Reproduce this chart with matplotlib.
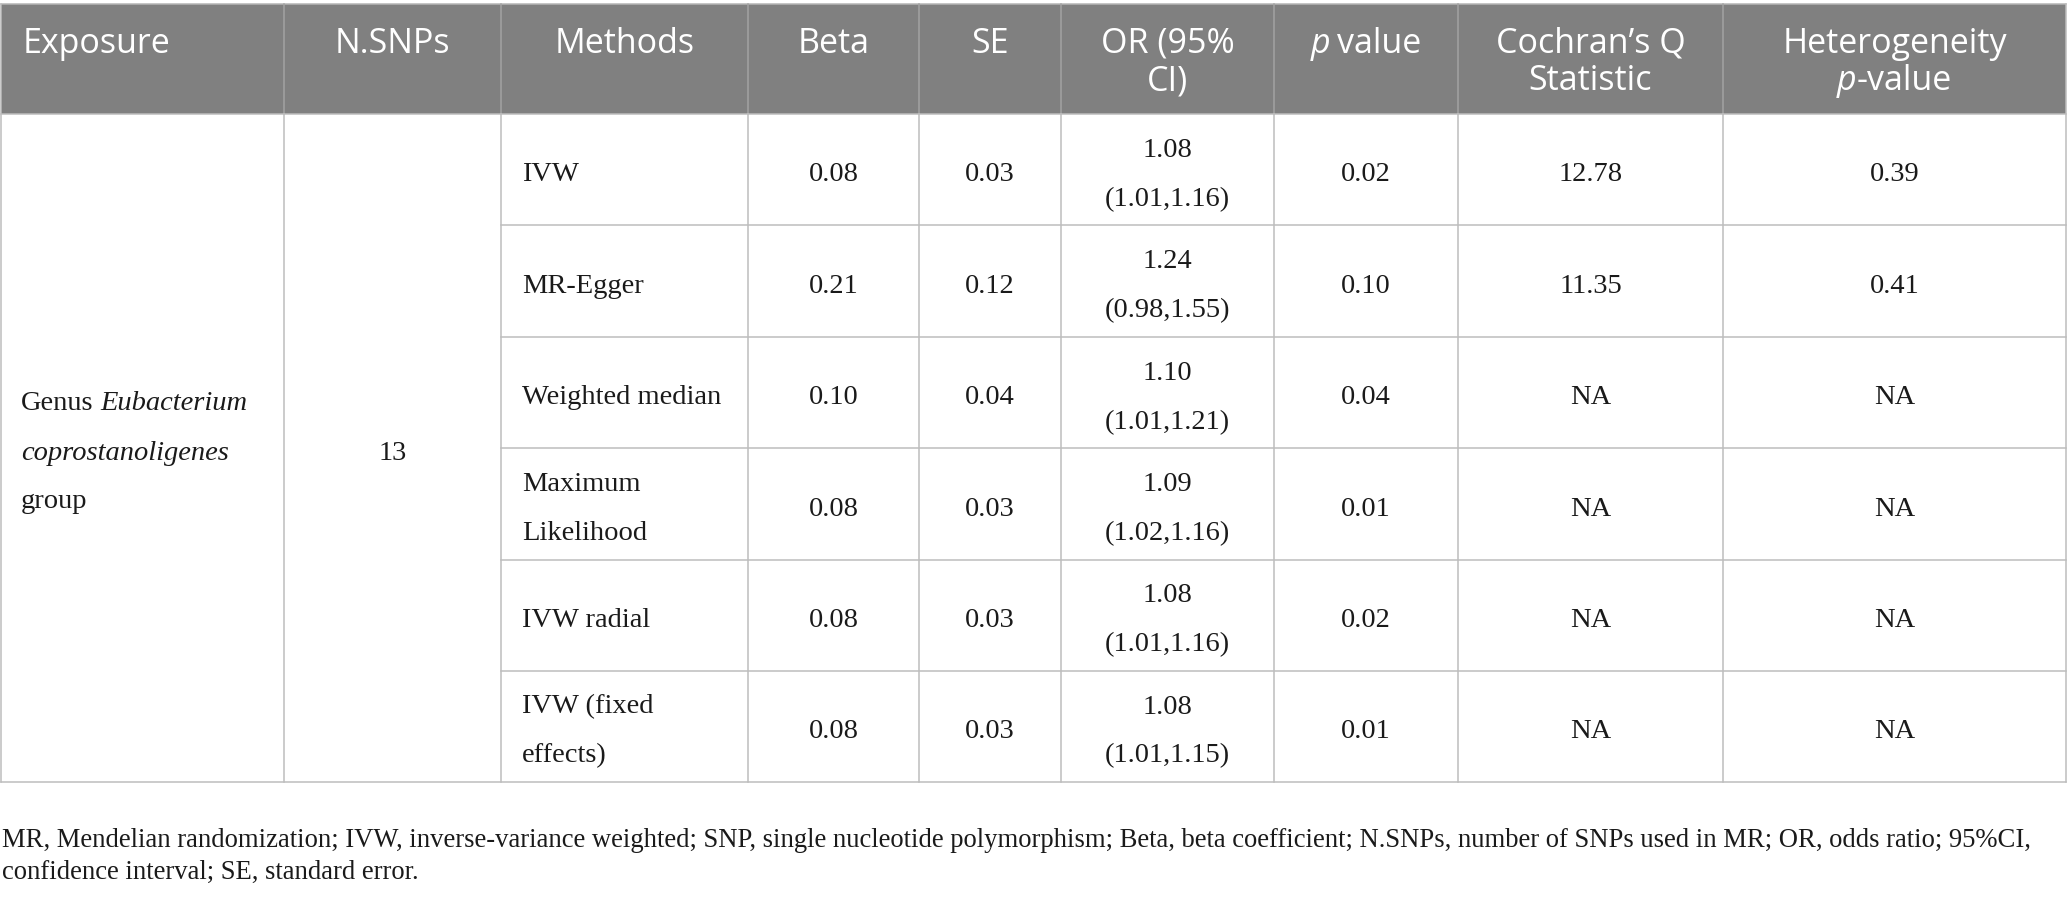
import matplotlib
matplotlib.use("Agg")
import matplotlib.pyplot as plt

# ---------------- data ----------------
headers = ["Exposure", "N.SNPs", "Methods", "Beta", "SE", "OR (95%\nCI)",
           "p value", "Cochran\u2019s Q\nStatistic", "Heterogeneity\np-value"]
exposure_lines = [[("Genus", False), ("Eubacterium", True)],
                  [("coprostanoligenes", True)],
                  [("group", False)]]
n_snps = "13"
methods = ["IVW", "MR-Egger", "Weighted median", "Maximum\nLikelihood",
           "IVW radial", "IVW (fixed\neffects)"]
beta = ["0.08", "0.21", "0.10", "0.08", "0.08", "0.08"]
se = ["0.03", "0.12", "0.04", "0.03", "0.03", "0.03"]
or_est = ["1.08", "1.24", "1.10", "1.09", "1.08", "1.08"]
or_ci = ["(1.01,1.16)", "(0.98,1.55)", "(1.01,1.21)", "(1.02,1.16)",
         "(1.01,1.16)", "(1.01,1.15)"]
p_values = ["0.02", "0.10", "0.04", "0.01", "0.02", "0.01"]
cochran_q = ["12.78", "11.35", "NA", "NA", "NA", "NA"]
het_p = ["0.39", "0.41", "NA", "NA", "NA", "NA"]
footnote = ["MR, Mendelian randomization; IVW, inverse-variance weighted; SNP, single nucleotide "
            "polymorphism; Beta, beta coefficient; N.SNPs, number of SNPs used in MR; OR, odds ratio; 95%CI,",
            "confidence interval; SE, standard error."]

# ---------------- layout ----------------
W, H = 2068, 897
fig = plt.figure(figsize=(W / 100, H / 100), dpi=100)
ax = fig.add_axes([0, 0, 1, 1])
ax.set_xlim(0, W)
ax.set_ylim(H, 0)
ax.axis("off")
renderer = fig.canvas.get_renderer()

col_x = [1, 284, 501, 748, 919, 1061, 1274, 1458, 1723, 2066]
head_top, head_bot = 4, 114
row_y = [114, 225.5, 337, 448.5, 560, 671, 782]

SERIF = "Liberation Serif"
SANS = "Open Sans"
body_fs = 20.5
head_fs = 24.5
line_gap = 49
head_gap = 37
grid_c = "#bdbdbd"
head_bg = "#808080"
head_line = "#a3a3a3"
lw = 1.1


def measure(s, **kw):
    t = ax.text(0, 0, s, **kw)
    w = t.get_window_extent(renderer).width
    t.remove()
    return w


def draw_runs(x, y, runs, ha, fs, family, color, gap=0.0):
    kw = dict(fontsize=fs, family=family)
    space_w = 0.22 * fs * 100 / 72
    widths = []
    for s, it in runs:
        st = "italic" if it else "normal"
        core = s.strip(" ")
        lead = len(s) - len(s.lstrip(" "))
        trail = len(s) - len(s.rstrip(" "))
        w = measure(core, style=st, **kw) if core else 0
        widths.append((lead * space_w, w, trail * space_w, core, st))
    total = sum(a + b + c for a, b, c, _, _ in widths) + gap * (len(widths) - 1)
    cx = x - total / 2 if ha == "center" else x
    for lead, w, trail, core, st in widths:
        cx += lead
        if core:
            ax.text(cx, y, core, fontsize=fs, family=family, style=st,
                    color=color, ha="left", va="baseline")
        cx += w + trail + gap


def cell_lines(x, yc, lines, ha="center"):
    n = len(lines)
    base0 = yc + 11.5 - line_gap * (n - 1) / 2
    for i, ln in enumerate(lines):
        ax.text(x, base0 + i * line_gap, ln, fontsize=body_fs, family=SERIF,
                color="#1a1a1a", ha=ha, va="baseline")


# header background
ax.add_patch(plt.Rectangle((col_x[0], head_top), col_x[-1] - col_x[0],
                           head_bot - head_top, facecolor=head_bg,
                           edgecolor="none", zorder=0))
ax.plot([col_x[0], col_x[-1]], [head_top, head_top], color="#b5b5b5", lw=lw)
for xv in col_x[1:-1]:
    ax.plot([xv, xv], [head_top, head_bot], color=head_line, lw=lw)
ax.plot([col_x[0], col_x[0]], [head_top, row_y[-1]], color=grid_c, lw=lw)
ax.plot([col_x[-1], col_x[-1]], [head_top, row_y[-1]], color=grid_c, lw=lw)

# body grid
ax.plot([col_x[0], col_x[-1]], [row_y[0], row_y[0]], color=grid_c, lw=lw)
ax.plot([col_x[0], col_x[-1]], [row_y[-1], row_y[-1]], color=grid_c, lw=lw)
for yv in row_y[1:-1]:
    ax.plot([col_x[2], col_x[-1]], [yv, yv], color=grid_c, lw=lw)
for xv in col_x[1:-1]:
    ax.plot([xv, xv], [row_y[0], row_y[-1]], color=grid_c, lw=lw)

# header text
head_base = 53
for j, h in enumerate(headers):
    lines = h.split("\n")
    cx = (col_x[j] + col_x[j + 1]) / 2
    for i, ln in enumerate(lines):
        y = head_base + i * head_gap
        runs = [(ln, False)]
        if ln == "p value":
            runs = [("p", True), (" value", False)]
        elif ln == "p-value":
            runs = [("p", True), ("-value", False)]
        if j == 0:
            draw_runs(col_x[0] + 22, y, runs, "left", head_fs, SANS, "white")
        else:
            draw_runs(cx, y, runs, "center", head_fs, SANS, "white")

# exposure merged cell
body_c = (row_y[0] + row_y[-1]) / 2
base0 = body_c + 11.5 - line_gap
for i, runs in enumerate(exposure_lines):
    draw_runs(col_x[0] + 20, base0 + i * line_gap, runs, "left", body_fs, SERIF,
              "#1a1a1a", gap=7.0)
# N.SNPs merged cell
cell_lines((col_x[1] + col_x[2]) / 2, body_c, [n_snps])

for r in range(len(methods)):
    yc = (row_y[r] + row_y[r + 1]) / 2
    cell_lines(col_x[2] + 21, yc, methods[r].split("\n"), ha="left")
    cell_lines((col_x[3] + col_x[4]) / 2, yc, [beta[r]])
    cell_lines((col_x[4] + col_x[5]) / 2, yc, [se[r]])
    cell_lines((col_x[5] + col_x[6]) / 2, yc, [or_est[r], or_ci[r]])
    cell_lines((col_x[6] + col_x[7]) / 2, yc, [p_values[r]])
    cell_lines((col_x[7] + col_x[8]) / 2, yc, [cochran_q[r]])
    cell_lines((col_x[8] + col_x[9]) / 2, yc, [het_p[r]])

# footnote, sized to the reference line width
w10 = measure(footnote[0], fontsize=10, family=SERIF)
foot_fs = 10 * 2028 / w10
for i, ln in enumerate(footnote):
    ax.text(2, 847 + i * 32, ln, fontsize=foot_fs, family=SERIF,
            color="#1a1a1a", ha="left", va="baseline")

fig.savefig("out.png", dpi=100, facecolor="white")
